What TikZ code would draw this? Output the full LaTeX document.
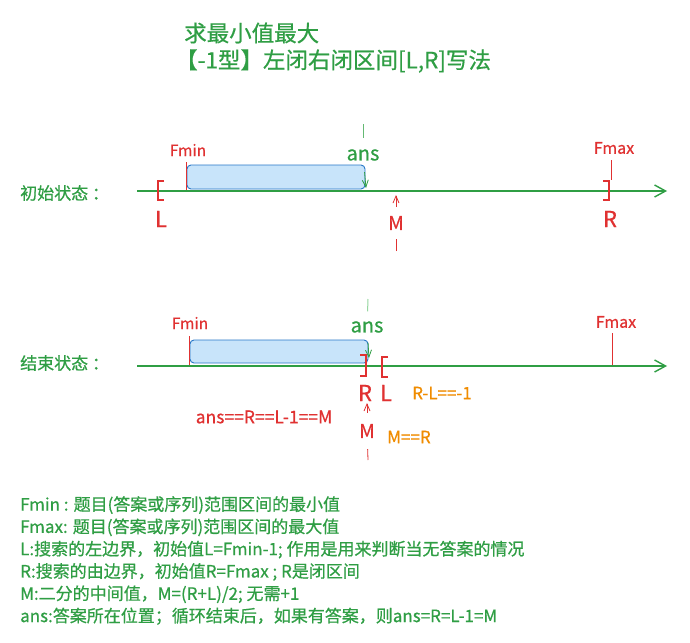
\documentclass[tikz,border=0pt]{standalone}
\usepackage{fontspec}
\setmainfont{Noto Sans CJK SC}[FakeBold=0.6]
\usetikzlibrary{arrows.meta}
\definecolor{exgreen}{RGB}{47,158,68}
\definecolor{midgreen}{RGB}{100,185,115}
\definecolor{palegreen}{RGB}{150,215,160}
\definecolor{exred}{RGB}{224,49,49}
\definecolor{exorange}{RGB}{240,140,0}
\definecolor{exblue}{RGB}{40,120,200}
\definecolor{barfill}{RGB}{200,228,250}
\tikzset{
  axis/.style={draw=exgreen, line width=1.6pt,
    -{Straight Barb[length=11pt,width=12pt,line width=1.4pt]}},
  bar/.style={draw=exblue, fill=barfill, rounded corners=4pt,
    line width=0.9pt, minimum width=178pt, minimum height=24pt, inner sep=0pt},
  bracket/.style={draw=exred, line width=1.8pt},
  redtick/.style={draw=exred, line width=0.8pt},
  redhead/.style={draw=exred, line width=0.8pt,
    -{Straight Barb[length=7pt,width=6pt]}},
  greenhead/.style={draw=exgreen, line width=0.8pt,
    -{Straight Barb[length=7pt,width=6pt]}},
  greentick/.style={line width=1pt},
  greentxt/.style={text=exgreen, inner sep=0pt},
  redlbl/.style={text=exred, inner sep=0pt, font=\fontsize{15.5}{18}\selectfont},
  orangelbl/.style={text=exorange, inner sep=0pt, font=\fontsize{17}{20}\selectfont},
  biglbl/.style={text=exred, inner sep=0pt, font=\fontsize{22}{26}\selectfont},
  midlbl/.style={text=exred, inner sep=0pt, font=\fontsize{19}{22}\selectfont},
  anslbl/.style={text=exgreen, inner sep=0pt, font=\fontsize{20}{24}\selectfont}
}

\begin{document}
\begin{tikzpicture}[x=1pt, y=-1pt]
  \useasboundingbox[fill=white] (0,0) rectangle (690,642);

  % title
  \node[greentxt, anchor=west, font=\fontsize{22.5}{26}\selectfont] (title1) at (184,33) {求最小值最大};
  \node[greentxt, anchor=west, font=\fontsize{22.5}{26}\selectfont] (title2) at (175,61) {【-1型】左闭右闭区间[L,R]写法};

  % initial state
  \node[greentxt, anchor=west, font=\fontsize{17}{20}\selectfont] (init) at (20,193) {初始状态 ：};
  \coordinate (line1s) at (137,191);
  \coordinate (line1e) at (667,191);
  \draw[axis] (line1s) -- (line1e);
  \node[bar] (bar1) at (276,177) {};

  \node[redlbl] (fmin1) at (188,150) {Fmin};
  \coordinate (fmin1top) at (186,162);
  \coordinate (fmin1bot) at (186,190);
  \draw[redtick] (fmin1top) -- (fmin1bot);

  \node[anslbl, minimum height=34pt] (ans1) at (363,155) {ans};
  \coordinate (ans1tail) at (363,124);
  \coordinate (ans1tip) at (366,188);
  \draw[greentick, draw=midgreen] (ans1tail) -- (ans1);
  \draw[greenhead] (ans1) -- (ans1tip);

  \node[midlbl, minimum height=32pt] (m1) at (396,223) {M};
  \coordinate (m1tail) at (396,251);
  \coordinate (m1tip) at (396,195);
  \draw[redtick] (m1tail) -- (m1);
  \draw[redhead] (m1) -- (m1tip);

  \draw[bracket] (164,181) -| (158,200) -- (164,200);
  \node[biglbl] (l1) at (161,219) {L};

  \node[redlbl, font=\fontsize{16}{19}\selectfont] (fmax1) at (614,148) {Fmax};
  \coordinate (fmax1top) at (611,160);
  \coordinate (fmax1bot) at (611,180);
  \draw[redtick] (fmax1top) -- (fmax1bot);
  \draw[bracket] (603,181) -| (609,200) -- (603,200);
  \node[biglbl] (r1) at (610,219) {R};

  % final state
  \node[greentxt, anchor=west, font=\fontsize{17}{20}\selectfont] (final) at (20,363) {结束状态 ：};
  \coordinate (line2s) at (137,366);
  \coordinate (line2e) at (667,366);
  \draw[axis] (line2s) -- (line2e);
  \node[bar, minimum height=23pt] (bar2) at (279,351.5) {};

  \node[redlbl] (fmin2) at (190,323) {Fmin};
  \coordinate (fmin2top) at (189,336);
  \coordinate (fmin2bot) at (189,365);
  \draw[redtick] (fmin2top) -- (fmin2bot);

  \node[anslbl, minimum height=31pt] (ans2) at (367,327) {ans};
  \coordinate (ans2tail) at (368,299);
  \coordinate (ans2tip) at (369,358);
  \draw[greentick, draw=palegreen] (ans2tail) -- (ans2);
  \draw[greenhead] (ans2) -- (ans2tip);

  \draw[bracket] (360,355) -| (366,376) -- (360,376);
  \draw[bracket] (388,357) -| (382,377) -- (388,377);
  \node[biglbl] (r2) at (365,393) {R};
  \node[biglbl] (l2) at (386,393) {L};
  \node[orangelbl] (rl) at (442,393) {R-L==-1};
  \node[redlbl, font=\fontsize{17.5}{20}\selectfont] (anseq) at (264,417) {ans==R==L-1==M};

  \node[midlbl, minimum height=36pt] (m2) at (367,431) {M};
  \coordinate (m2tail) at (368,460);
  \coordinate (m2tip) at (367,403);
  \draw[redtick] (m2tail) -- (m2);
  \draw[redhead] (m2) -- (m2tip);
  \node[orangelbl] (mr) at (409,437) {M==R};

  \node[redlbl, font=\fontsize{16}{19}\selectfont] (fmax2) at (616,322) {Fmax};
  \coordinate (fmax2top) at (612,333);
  \coordinate (fmax2bot) at (612,365);
  \draw[redtick] (fmax2top) -- (fmax2bot);

  % legend
  \node[greentxt, anchor=north west, align=left, font=\fontsize{17}{22.3}\selectfont] (legend) at (20,496) {%
    Fmin : 题目(答案或序列)范围区间的最小值\\
    Fmax: 题目(答案或序列)范围区间的最大值\\
    L:搜索的左边界，初始值L=Fmin-1; 作用是用来判断当无答案的情况\\
    R:搜索的由边界，初始值R=Fmax ; R是闭区间\\
    M:二分的中间值，M=(R+L)/2; 无需+1\\
    ans:答案所在位置；循环结束后，如果有答案，则ans=R=L-1=M};
\end{tikzpicture}
\end{document}
